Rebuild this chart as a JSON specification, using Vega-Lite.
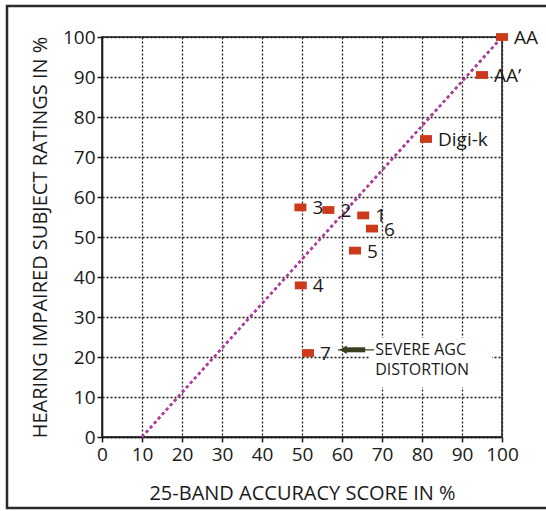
{
  "$schema": "https://vega.github.io/schema/vega-lite/v6.json",
  "width": 400,
  "height": 400,
  "autosize": {"type": "none"},
  "padding": {"left": 102, "top": 37, "right": 44, "bottom": 74},
  "background": "white",
  "config": {
    "view": {"stroke": "#1a1a1a", "strokeWidth": 1.5},
    "font": "Open Sans",
    "axis": {
      "labelFont": "Open Sans",
      "titleFont": "Open Sans",
      "labelColor": "#1a1a1a",
      "titleColor": "#1a1a1a",
      "titleFontWeight": "normal",
      "labelFontSize": 19,
      "titleFontSize": 20,
      "domainColor": "#1a1a1a",
      "domainWidth": 1.5,
      "tickColor": "#1a1a1a",
      "tickWidth": 1.5,
      "tickSize": 5,
      "tickCount": 12,
      "labelOverlap": false,
      "grid": true,
      "gridColor": "#1a1a1a",
      "gridDash": [2, 2],
      "gridWidth": 1.3,
      "gridOpacity": 1
    }
  },
  "datasets": {
    "points": [
      {"label": "AA", "accuracy": 100, "rating": 100},
      {"label": "AA’", "accuracy": 95, "rating": 90.5},
      {"label": "Digi-k", "accuracy": 81, "rating": 74.5},
      {"label": "3", "accuracy": 49.6, "rating": 57.4},
      {"label": "2", "accuracy": 56.6, "rating": 56.75},
      {"label": "1", "accuracy": 65.3, "rating": 55.4},
      {"label": "6", "accuracy": 67.5, "rating": 52.1},
      {"label": "5", "accuracy": 63.25, "rating": 46.6},
      {"label": "4", "accuracy": 49.7, "rating": 37.9},
      {"label": "7", "accuracy": 51.5, "rating": 21}
    ],
    "diagonal": [
      {"accuracy": 10, "rating": 0},
      {"accuracy": 100, "rating": 100}
    ],
    "note": [
      {"accuracy": 68.3, "rating": 21.8, "text": ["SEVERE AGC", "DISTORTION"]}
    ]
  },
  "layer": [
    {
      "data": {"name": "diagonal"},
      "mark": {"type": "line", "stroke": "#b03c9e", "strokeWidth": 2.5, "strokeDash": [3, 3]},
      "encoding": {
        "x": {
          "field": "accuracy", "type": "quantitative",
          "scale": {"domain": [0, 100], "nice": false},
          "axis": {
            "title": "25-BAND ACCURACY SCORE IN %",
            "values": [0, 10, 20, 30, 40, 50, 60, 70, 80, 90, 100],
            "tickCount": 12,
            "labelOverlap": false,
            "labelPadding": 3,
            "titlePadding": 19,
            "labelFlush": false
          }
        },
        "y": {
          "field": "rating", "type": "quantitative",
          "scale": {"domain": [0, 100], "nice": false},
          "axis": {
            "title": "HEARING IMPAIRED SUBJECT RATINGS IN %",
            "values": [0, 10, 20, 30, 40, 50, 60, 70, 80, 90, 100],
            "tickCount": 12,
            "labelOverlap": false,
            "labelPadding": 2,
            "titlePadding": 12,
            "labelFlush": false
          }
        }
      }
    },
    {
      "data": {"values": [{}]},
      "mark": {"type": "rect", "fill": null, "stroke": "#2a2a2a", "strokeWidth": 2.5, "clip": false},
      "encoding": {
        "x": {"datum": -23.75, "type": "quantitative"},
        "x2": {"datum": 112},
        "y": {"datum": -17.75, "type": "quantitative"},
        "y2": {"datum": 107.75}
      }
    },
    {
      "data": {"values": [{}]},
      "mark": {"type": "rect", "fill": "white", "stroke": null},
      "encoding": {
        "x": {"datum": 67, "type": "quantitative"},
        "x2": {"datum": 97.5},
        "y": {"datum": 12.5, "type": "quantitative"},
        "y2": {"datum": 24.75}
      }
    },
    {
      "data": {"name": "diagonal"},
      "mark": {"type": "line", "stroke": "#b03c9e", "strokeWidth": 2.5, "strokeDash": [3, 3]},
      "encoding": {
        "x": {"field": "accuracy", "type": "quantitative"},
        "y": {"field": "rating", "type": "quantitative"}
      }
    },
    {
      "data": {"name": "note"},
      "mark": {"type": "rule", "stroke": "#3b3d1e", "strokeWidth": 1.3},
      "encoding": {
        "x": {"datum": 59, "type": "quantitative"},
        "x2": {"datum": 68},
        "y": {"field": "rating", "type": "quantitative"}
      }
    },
    {
      "data": {"name": "note"},
      "mark": {"type": "rule", "stroke": "#3b3d1e", "strokeWidth": 5},
      "encoding": {
        "x": {"datum": 60.5, "type": "quantitative"},
        "x2": {"datum": 65.8},
        "y": {"field": "rating", "type": "quantitative"}
      }
    },
    {
      "data": {"name": "note"},
      "mark": {"type": "point", "shape": "triangle-left", "filled": true, "color": "#3b3d1e", "size": 70, "opacity": 1},
      "encoding": {
        "x": {"datum": 60.3, "type": "quantitative"},
        "y": {"field": "rating", "type": "quantitative"}
      }
    },
    {
      "data": {"name": "note"},
      "mark": {"type": "text", "align": "left", "baseline": "middle", "fontSize": 16, "lineHeight": 20, "color": "#1a1a1a", "font": "Open Sans"},
      "encoding": {
        "x": {"field": "accuracy", "type": "quantitative"},
        "y": {"field": "rating", "type": "quantitative"},
        "text": {"field": "text"}
      }
    },
    {
      "data": {"name": "points"},
      "mark": {"type": "point", "shape": "M-1,-0.65L1,-0.65L1,0.65L-1,0.65Z", "filled": true, "color": "#cc3a1b", "size": 144, "opacity": 1},
      "encoding": {
        "x": {"field": "accuracy", "type": "quantitative"},
        "y": {"field": "rating", "type": "quantitative"}
      }
    },
    {
      "data": {"name": "points"},
      "mark": {"type": "text", "align": "left", "baseline": "middle", "dx": 12, "dy": 1, "fontSize": 19, "color": "#1a1a1a", "font": "Open Sans"},
      "encoding": {
        "x": {"field": "accuracy", "type": "quantitative"},
        "y": {"field": "rating", "type": "quantitative"},
        "text": {"field": "label"}
      }
    }
  ]
}
